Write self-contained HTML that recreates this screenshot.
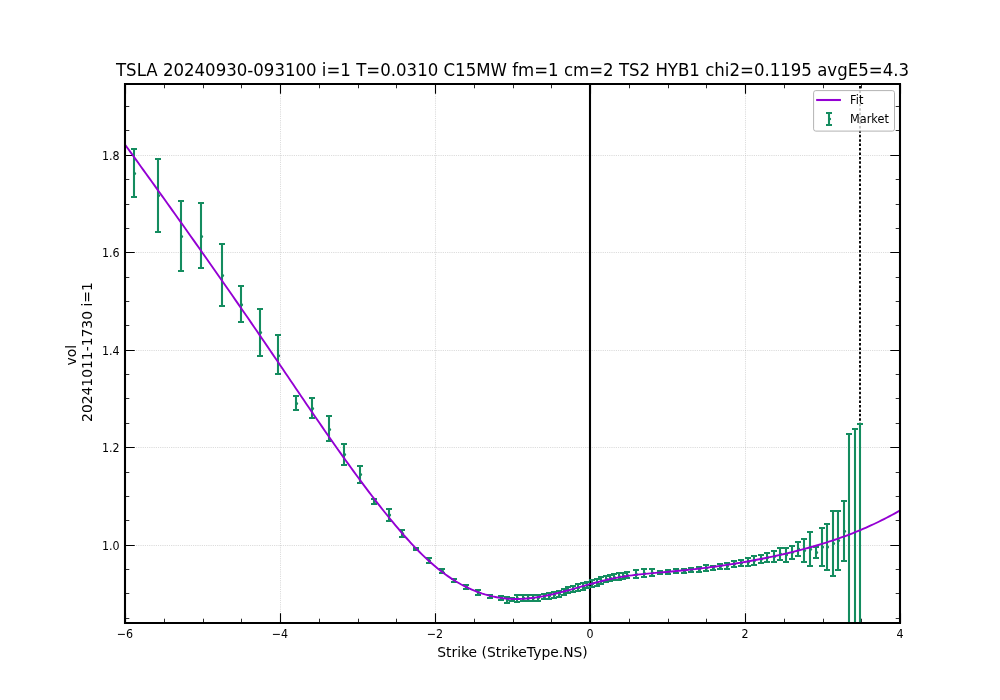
<!DOCTYPE html>
<html><head><meta charset="utf-8"><title>TSLA vol fit</title>
<style>html,body{margin:0;padding:0;background:#fff;overflow:hidden;}svg{display:block;}</style></head>
<body>
<svg width="1000" height="700" viewBox="0 0 1000 700">
<rect x="0" y="0" width="1000" height="700" fill="#ffffff"/>
<defs><clipPath id="ax"><rect x="125" y="84" width="775" height="539"/></clipPath></defs>
<g clip-path="url(#ax)"><path d="M 125.5 623 L 125.5 84 M 280.5 623 L 280.5 84 M 435.5 623 L 435.5 84 M 590.5 623 L 590.5 84 M 745.5 623 L 745.5 84 M 900.5 623 L 900.5 84 M 125 545.5 L 900 545.5 M 125 447.5 L 900 447.5 M 125 350.5 L 900 350.5 M 125 252.5 L 900 252.5 M 125 155.5 L 900 155.5" style="fill:none;stroke:#b0b0b0;stroke-opacity:0.9;stroke-width:0.69;stroke-dasharray:0.69 1.15"/></g>
<path d="M 125.5 623 L 125.5 613.28 M 125.5 84 L 125.5 93.72 M 280.5 623 L 280.5 613.28 M 280.5 84 L 280.5 93.72 M 435.5 623 L 435.5 613.28 M 435.5 84 L 435.5 93.72 M 590.5 623 L 590.5 613.28 M 590.5 84 L 590.5 93.72 M 745.5 623 L 745.5 613.28 M 745.5 84 L 745.5 93.72 M 900.5 623 L 900.5 613.28 M 900.5 84 L 900.5 93.72 M 125 545.5 L 134.72 545.5 M 900 545.5 L 890.28 545.5 M 125 447.5 L 134.72 447.5 M 900 447.5 L 890.28 447.5 M 125 350.5 L 134.72 350.5 M 900 350.5 L 890.28 350.5 M 125 252.5 L 134.72 252.5 M 900 252.5 L 890.28 252.5 M 125 155.5 L 134.72 155.5 M 900 155.5 L 890.28 155.5" style="fill:none;stroke:#000;stroke-width:1.11"/>
<path d="M 164.5 623 L 164.5 618.69 M 164.5 84 L 164.5 88.31 M 203.5 623 L 203.5 618.69 M 203.5 84 L 203.5 88.31 M 241.5 623 L 241.5 618.69 M 241.5 84 L 241.5 88.31 M 319.5 623 L 319.5 618.69 M 319.5 84 L 319.5 88.31 M 358.5 623 L 358.5 618.69 M 358.5 84 L 358.5 88.31 M 396.5 623 L 396.5 618.69 M 396.5 84 L 396.5 88.31 M 474.5 623 L 474.5 618.69 M 474.5 84 L 474.5 88.31 M 513.5 623 L 513.5 618.69 M 513.5 84 L 513.5 88.31 M 551.5 623 L 551.5 618.69 M 551.5 84 L 551.5 88.31 M 629.5 623 L 629.5 618.69 M 629.5 84 L 629.5 88.31 M 668.5 623 L 668.5 618.69 M 668.5 84 L 668.5 88.31 M 706.5 623 L 706.5 618.69 M 706.5 84 L 706.5 88.31 M 784.5 623 L 784.5 618.69 M 784.5 84 L 784.5 88.31 M 823.5 623 L 823.5 618.69 M 823.5 84 L 823.5 88.31 M 861.5 623 L 861.5 618.69 M 861.5 84 L 861.5 88.31 M 125 618.5 L 129.31 618.5 M 900 618.5 L 895.69 618.5 M 125 593.5 L 129.31 593.5 M 900 593.5 L 895.69 593.5 M 125 569.5 L 129.31 569.5 M 900 569.5 L 895.69 569.5 M 125 520.5 L 129.31 520.5 M 900 520.5 L 895.69 520.5 M 125 496.5 L 129.31 496.5 M 900 496.5 L 895.69 496.5 M 125 472.5 L 129.31 472.5 M 900 472.5 L 895.69 472.5 M 125 423.5 L 129.31 423.5 M 900 423.5 L 895.69 423.5 M 125 398.5 L 129.31 398.5 M 900 398.5 L 895.69 398.5 M 125 374.5 L 129.31 374.5 M 900 374.5 L 895.69 374.5 M 125 325.5 L 129.31 325.5 M 900 325.5 L 895.69 325.5 M 125 301.5 L 129.31 301.5 M 900 301.5 L 895.69 301.5 M 125 277.5 L 129.31 277.5 M 900 277.5 L 895.69 277.5 M 125 228.5 L 129.31 228.5 M 900 228.5 L 895.69 228.5 M 125 204.5 L 129.31 204.5 M 900 204.5 L 895.69 204.5 M 125 179.5 L 129.31 179.5 M 900 179.5 L 895.69 179.5 M 125 130.5 L 129.31 130.5 M 900 130.5 L 895.69 130.5 M 125 106.5 L 129.31 106.5 M 900 106.5 L 895.69 106.5" style="fill:none;stroke:#000;stroke-width:0.83"/>
<g clip-path="url(#ax)">
<path d="M 590 623 L 590 84" style="fill:none;stroke:#000;stroke-width:2.08;stroke-linecap:square"/>
<path d="M 860 623 L 860 84" style="fill:none;stroke:#000;stroke-width:1.9;stroke-dasharray:2.5 1.93;stroke-dashoffset:1.56"/>
</g>
<g clip-path="url(#ax)">
<path d="M 134 197 L 134 149 M 158 232 L 158 159 M 181 271 L 181 201 M 201 268 L 201 203 M 222 306 L 222 244 M 241 322 L 241 286 M 260 356 L 260 309 M 278 374 L 278 335 M 296 410 L 296 396 M 312 418 L 312 398 M 329 441 L 329 416 M 344 465 L 344 444 M 360 483 L 360 466 M 374 504 L 374 499 M 389 521 L 389 509 M 402 537 L 402 530 M 416 550 L 416 548 M 429 563 L 429 558 M 442 573 L 442 569 M 454 582 L 454 579 M 466 589 L 466 585 M 478 595 L 478 590 M 490 598 L 490 595 M 501 600 L 501 596 M 507 603 L 507 597 M 512 601 L 512 598 M 517 602 L 517 595 M 523 601 L 523 595 M 528 601 L 528 595 M 533 601 L 533 595 M 538 601 L 538 595 M 544 599 L 544 594 M 549 599 L 549 593 M 554 598 L 554 592 M 559 597 L 559 591 M 564 595 L 564 589 M 568 593 L 568 587 M 573 592 L 573 586 M 578 591 L 578 584 M 583 590 L 583 583 M 587 588 L 587 582 M 592 587 L 592 580 M 597 586 L 597 579 M 601 584 L 601 577 M 606 582 L 606 576 M 610 581 L 610 575 M 614 580 L 614 574 M 619 580 L 619 573 M 623 579 L 623 573 M 627 578 L 627 572 M 636 578 L 636 570 M 644 577 L 644 569 M 652 576 L 652 569 M 660 574 L 660 571 M 668 574 L 668 570 M 676 573 L 676 569 M 684 573 L 684 569 M 691 572 L 691 568 M 699 572 L 699 567 M 706 571 L 706 565 M 713 570 L 713 566 M 720 569 L 720 564 M 727 569 L 727 563 M 734 567 L 734 561 M 741 566 L 741 560 M 748 566 L 748 558 M 754 565 L 754 556 M 761 563 L 761 555 M 767 562 L 767 553 M 774 562 L 774 551 M 780 560 L 780 548 M 786 562 L 786 548 M 792 559 L 792 546 M 798 556 L 798 542 M 804 562 L 804 539 M 810 566 L 810 532 M 816 558 L 816 547 M 822 566 L 822 528 M 827 570 L 827 524 M 833 576 L 833 511 M 838 570 L 838 511 M 844 561 L 844 501 M 849 900 L 849 434 M 855 900 L 855 429 M 860 900 L 860 424" style="fill:none;stroke:#148c5f;stroke-width:2.08"/>
<path d="M 131 149 L 137 149 M 131 197 L 137 197 M 155 159 L 161 159 M 155 232 L 161 232 M 178 201 L 184 201 M 178 271 L 184 271 M 198 203 L 204 203 M 198 268 L 204 268 M 219 244 L 225 244 M 219 306 L 225 306 M 238 286 L 244 286 M 238 322 L 244 322 M 257 309 L 263 309 M 257 356 L 263 356 M 275 335 L 281 335 M 275 374 L 281 374 M 293 396 L 299 396 M 293 410 L 299 410 M 309 398 L 315 398 M 309 418 L 315 418 M 326 416 L 332 416 M 326 441 L 332 441 M 341 444 L 347 444 M 341 465 L 347 465 M 357 466 L 363 466 M 357 483 L 363 483 M 371 499 L 377 499 M 371 504 L 377 504 M 386 509 L 392 509 M 386 521 L 392 521 M 399 530 L 405 530 M 399 537 L 405 537 M 413 548 L 419 548 M 413 550 L 419 550 M 426 558 L 432 558 M 426 563 L 432 563 M 439 569 L 445 569 M 439 573 L 445 573 M 451 579 L 457 579 M 451 582 L 457 582 M 463 585 L 469 585 M 463 589 L 469 589 M 475 590 L 481 590 M 475 595 L 481 595 M 487 595 L 493 595 M 487 598 L 493 598 M 498 596 L 504 596 M 498 600 L 504 600 M 504 597 L 510 597 M 504 603 L 510 603 M 509 598 L 515 598 M 509 601 L 515 601 M 514 595 L 520 595 M 514 602 L 520 602 M 520 595 L 526 595 M 520 601 L 526 601 M 525 595 L 531 595 M 525 601 L 531 601 M 530 595 L 536 595 M 530 601 L 536 601 M 535 595 L 541 595 M 535 601 L 541 601 M 541 594 L 547 594 M 541 599 L 547 599 M 546 593 L 552 593 M 546 599 L 552 599 M 551 592 L 557 592 M 551 598 L 557 598 M 556 591 L 562 591 M 556 597 L 562 597 M 561 589 L 567 589 M 561 595 L 567 595 M 565 587 L 571 587 M 565 593 L 571 593 M 570 586 L 576 586 M 570 592 L 576 592 M 575 584 L 581 584 M 575 591 L 581 591 M 580 583 L 586 583 M 580 590 L 586 590 M 584 582 L 590 582 M 584 588 L 590 588 M 589 580 L 595 580 M 589 587 L 595 587 M 594 579 L 600 579 M 594 586 L 600 586 M 598 577 L 604 577 M 598 584 L 604 584 M 603 576 L 609 576 M 603 582 L 609 582 M 607 575 L 613 575 M 607 581 L 613 581 M 611 574 L 617 574 M 611 580 L 617 580 M 616 573 L 622 573 M 616 580 L 622 580 M 620 573 L 626 573 M 620 579 L 626 579 M 624 572 L 630 572 M 624 578 L 630 578 M 633 570 L 639 570 M 633 578 L 639 578 M 641 569 L 647 569 M 641 577 L 647 577 M 649 569 L 655 569 M 649 576 L 655 576 M 657 571 L 663 571 M 657 574 L 663 574 M 665 570 L 671 570 M 665 574 L 671 574 M 673 569 L 679 569 M 673 573 L 679 573 M 681 569 L 687 569 M 681 573 L 687 573 M 688 568 L 694 568 M 688 572 L 694 572 M 696 567 L 702 567 M 696 572 L 702 572 M 703 565 L 709 565 M 703 571 L 709 571 M 710 566 L 716 566 M 710 570 L 716 570 M 717 564 L 723 564 M 717 569 L 723 569 M 724 563 L 730 563 M 724 569 L 730 569 M 731 561 L 737 561 M 731 567 L 737 567 M 738 560 L 744 560 M 738 566 L 744 566 M 745 558 L 751 558 M 745 566 L 751 566 M 751 556 L 757 556 M 751 565 L 757 565 M 758 555 L 764 555 M 758 563 L 764 563 M 764 553 L 770 553 M 764 562 L 770 562 M 771 551 L 777 551 M 771 562 L 777 562 M 777 548 L 783 548 M 777 560 L 783 560 M 783 548 L 789 548 M 783 562 L 789 562 M 789 546 L 795 546 M 789 559 L 795 559 M 795 542 L 801 542 M 795 556 L 801 556 M 801 539 L 807 539 M 801 562 L 807 562 M 807 532 L 813 532 M 807 566 L 813 566 M 813 547 L 819 547 M 813 558 L 819 558 M 819 528 L 825 528 M 819 566 L 825 566 M 824 524 L 830 524 M 824 570 L 830 570 M 830 511 L 836 511 M 830 576 L 836 576 M 835 511 L 841 511 M 835 570 L 841 570 M 841 501 L 847 501 M 841 561 L 847 561 M 846 434 L 852 434 M 846 900 L 852 900 M 852 429 L 858 429 M 852 900 L 858 900 M 857 424 L 863 424 M 857 900 L 863 900" style="fill:none;stroke:#148c5f;stroke-width:2.08"/>
<g style="fill:#148c5f"><circle cx="134.6" cy="173.4" r="1.5"/><circle cx="158.6" cy="195.4" r="1.5"/><circle cx="181.6" cy="236.5" r="1.5"/><circle cx="201.6" cy="236.5" r="1.5"/><circle cx="222.6" cy="275.6" r="1.5"/><circle cx="241.6" cy="304.8" r="1.5"/><circle cx="260.6" cy="332.6" r="1.5"/><circle cx="278.6" cy="355.8" r="1.5"/><circle cx="296.6" cy="403.4" r="1.5"/><circle cx="312.6" cy="408.4" r="1.5"/><circle cx="329.6" cy="429.5" r="1.5"/><circle cx="344.6" cy="454.5" r="1.5"/><circle cx="360.6" cy="474.6" r="1.5"/><circle cx="374.6" cy="501.6" r="1.5"/><circle cx="389.6" cy="515" r="1.5"/><circle cx="402.6" cy="533.6" r="1.5"/><circle cx="416.6" cy="549.2" r="1.5"/><circle cx="429.6" cy="560.7" r="1.5"/><circle cx="442.6" cy="571.2" r="1.5"/><circle cx="454.6" cy="580.7" r="1.5"/><circle cx="466.6" cy="587.1" r="1.5"/><circle cx="478.6" cy="592.6" r="1.5"/><circle cx="490.6" cy="596.3" r="1.5"/><circle cx="501.6" cy="598.08" r="1.5"/><circle cx="507.6" cy="600.1" r="1.5"/><circle cx="512.6" cy="599.45" r="1.5"/><circle cx="517.6" cy="598.58" r="1.5"/><circle cx="523.6" cy="598.05" r="1.5"/><circle cx="528.6" cy="598.05" r="1.5"/><circle cx="533.6" cy="598.05" r="1.5"/><circle cx="538.6" cy="597.79" r="1.5"/><circle cx="544.6" cy="596.84" r="1.5"/><circle cx="549.6" cy="595.92" r="1.5"/><circle cx="554.6" cy="594.97" r="1.5"/><circle cx="559.6" cy="593.9" r="1.5"/><circle cx="564.6" cy="592.04" r="1.5"/><circle cx="568.6" cy="590.35" r="1.5"/><circle cx="573.6" cy="588.98" r="1.5"/><circle cx="578.6" cy="587.64" r="1.5"/><circle cx="583.6" cy="586.38" r="1.5"/><circle cx="587.6" cy="585.18" r="1.5"/><circle cx="592.6" cy="583.86" r="1.5"/><circle cx="597.6" cy="582.4" r="1.5"/><circle cx="601.6" cy="580.89" r="1.5"/><circle cx="606.6" cy="579.3" r="1.5"/><circle cx="610.6" cy="578.19" r="1.5"/><circle cx="614.6" cy="577.39" r="1.5"/><circle cx="619.6" cy="576.68" r="1.5"/><circle cx="623.6" cy="576.07" r="1.5"/><circle cx="627.6" cy="575.55" r="1.5"/><circle cx="636.6" cy="574.4" r="1.5"/><circle cx="644.6" cy="573.6" r="1.5"/><circle cx="652.6" cy="573.1" r="1.5"/><circle cx="660.6" cy="572.8" r="1.5"/><circle cx="668.6" cy="572.15" r="1.5"/><circle cx="676.6" cy="571.15" r="1.5"/><circle cx="684.6" cy="571.15" r="1.5"/><circle cx="691.6" cy="570.15" r="1.5"/><circle cx="699.6" cy="569.65" r="1.5"/><circle cx="706.6" cy="568.3" r="1.5"/><circle cx="713.6" cy="567.85" r="1.5"/><circle cx="720.6" cy="566.5" r="1.5"/><circle cx="727.6" cy="566.05" r="1.5"/><circle cx="734.6" cy="564" r="1.5"/><circle cx="741.6" cy="563.05" r="1.5"/><circle cx="748.6" cy="561.9" r="1.5"/><circle cx="754.6" cy="560.55" r="1.5"/><circle cx="761.6" cy="559" r="1.5"/><circle cx="767.6" cy="557.5" r="1.5"/><circle cx="774.6" cy="556.4" r="1.5"/><circle cx="780.6" cy="554" r="1.5"/><circle cx="786.6" cy="554.85" r="1.5"/><circle cx="792.6" cy="552.35" r="1.5"/><circle cx="798.6" cy="549" r="1.5"/><circle cx="804.6" cy="550.4" r="1.5"/><circle cx="810.6" cy="549.15" r="1.5"/><circle cx="816.6" cy="552.5" r="1.5"/><circle cx="822.6" cy="547" r="1.5"/><circle cx="827.6" cy="547.05" r="1.5"/><circle cx="833.6" cy="543.45" r="1.5"/><circle cx="838.6" cy="540.6" r="1.5"/><circle cx="844.6" cy="531.2" r="1.5"/><circle cx="849.6" cy="667.15" r="1.5"/><circle cx="855.6" cy="664.65" r="1.5"/><circle cx="860.6" cy="662.1" r="1.5"/></g>
<path d="M 120 137.7 122.63 141.32 125.25 144.94 127.88 148.55 130.5 152.18 133.13 155.8 135.75 159.43 138.38 163.06 141 166.7 143.63 170.34 146.25 173.98 148.88 177.62 151.51 181.27 154.13 184.92 156.76 188.58 159.38 192.23 162.01 195.9 164.63 199.56 167.26 203.23 169.88 206.9 172.51 210.58 175.13 214.26 177.76 217.94 180.38 221.63 183.01 225.32 185.64 229.02 188.26 232.72 190.89 236.43 193.51 240.13 196.14 243.85 198.76 247.56 201.39 251.29 204.01 255.01 206.64 258.74 209.26 262.48 211.89 266.22 214.52 269.96 217.14 273.71 219.77 277.46 222.39 281.22 225.02 284.99 227.64 288.75 230.27 292.53 232.89 296.3 235.52 300.09 238.14 303.88 240.77 307.67 243.39 311.47 246.02 315.27 248.65 319.08 251.27 322.89 253.9 326.71 256.52 330.54 259.15 334.37 261.77 338.21 264.4 342.05 267.02 345.9 269.65 349.75 272.27 353.61 274.9 357.47 277.53 361.34 280.15 365.21 282.78 369.09 285.4 372.96 288.03 376.84 290.65 380.71 293.28 384.59 295.9 388.46 298.53 392.33 301.15 396.2 303.78 400.06 306.4 403.91 309.03 407.76 311.66 411.61 314.28 415.44 316.91 419.27 319.53 423.08 322.16 426.89 324.78 430.68 327.41 434.46 330.03 438.23 332.66 441.98 335.28 445.72 337.91 449.45 340.54 453.15 343.16 456.84 345.79 460.51 348.41 464.16 351.04 467.79 353.66 471.4 356.29 474.99 358.91 478.56 361.54 482.1 364.16 485.61 366.79 489.11 369.41 492.57 372.04 496.01 374.67 499.42 377.29 502.8 379.92 506.15 382.54 509.47 385.17 512.76 387.79 516.02 390.42 519.24 393.04 522.43 395.67 525.58 398.29 528.69 400.92 531.76 403.55 534.78 406.17 537.75 408.8 540.66 411.42 543.52 414.05 546.33 416.67 549.07 419.3 551.75 421.92 554.36 424.55 556.9 427.17 559.36 429.8 561.76 432.42 564.07 435.05 566.31 437.68 568.47 440.3 570.55 442.93 572.56 445.55 574.5 448.18 576.35 450.8 578.13 453.43 579.83 456.05 581.46 458.68 583.01 461.3 584.49 463.93 585.89 466.56 587.21 469.18 588.46 471.81 589.63 474.43 590.73 477.06 591.76 479.68 592.72 482.31 593.6 484.93 594.41 487.56 595.15 490.18 595.83 492.81 596.44 495.43 596.97 498.06 597.45 500.69 597.85 503.31 598.2 505.94 598.48 508.56 598.69 511.19 598.85 513.81 598.94 516.44 598.97 519.06 598.94 521.69 598.86 524.31 598.71 526.94 598.51 529.57 598.27 532.19 597.97 534.82 597.62 537.44 597.23 540.07 596.8 542.69 596.33 545.32 595.83 547.94 595.29 550.57 594.72 553.19 594.12 555.82 593.5 558.44 592.85 561.07 592.18 563.7 591.49 566.32 590.79 568.95 590.07 571.57 589.35 574.2 588.61 576.82 587.87 579.45 587.13 582.07 586.39 584.7 585.64 587.32 584.91 589.95 584.18 592.58 583.46 595.2 582.75 597.83 582.06 600.45 581.38 603.08 580.73 605.7 580.09 608.33 579.49 610.95 578.9 613.58 578.35 616.2 577.83 618.83 577.34 621.45 576.89 624.08 576.46 626.71 576.06 629.33 575.68 631.96 575.33 634.58 574.99 637.21 574.68 639.83 574.38 642.46 574.1 645.08 573.84 647.71 573.58 650.33 573.34 652.96 573.1 655.59 572.87 658.21 572.64 660.84 572.42 663.46 572.19 666.09 571.96 668.71 571.74 671.34 571.5 673.96 571.26 676.59 571.01 679.21 570.76 681.84 570.49 684.46 570.23 687.09 569.95 689.72 569.67 692.34 569.38 694.97 569.08 697.59 568.78 700.22 568.47 702.84 568.15 705.47 567.82 708.09 567.49 710.72 567.15 713.34 566.8 715.97 566.44 718.6 566.07 721.22 565.7 723.85 565.32 726.47 564.93 729.1 564.53 731.72 564.12 734.35 563.7 736.97 563.27 739.6 562.84 742.22 562.39 744.85 561.94 747.47 561.48 750.1 561.01 752.73 560.52 755.35 560.03 757.98 559.53 760.6 559.02 763.23 558.5 765.85 557.97 768.48 557.43 771.1 556.87 773.73 556.31 776.35 555.74 778.98 555.16 781.61 554.56 784.23 553.96 786.86 553.34 789.48 552.71 792.11 552.08 794.73 551.43 797.36 550.77 799.98 550.09 802.61 549.4 805.23 548.7 807.86 547.99 810.48 547.26 813.11 546.52 815.74 545.76 818.36 544.99 820.99 544.2 823.61 543.39 826.24 542.56 828.86 541.72 831.49 540.86 834.11 539.98 836.74 539.08 839.36 538.17 841.99 537.23 844.62 536.27 847.24 535.29 849.87 534.29 852.49 533.27 855.12 532.22 857.74 531.16 860.37 530.07 862.99 528.95 865.62 527.81 868.24 526.65 870.87 525.46 873.49 524.25 876.12 523.01 878.75 521.74 881.37 520.44 884 519.12 886.62 517.77 889.25 516.39 891.87 514.99 894.5 513.55 897.12 512.08 899.75 510.59 902.37 509.06 905 507.5" style="fill:none;stroke:#9400d3;stroke-width:1.9;stroke-linejoin:round"/>
</g>
<path d="M 125 623 L 125 84 M 900 623 L 900 84 M 125 623 L 900 623 M 125 84 L 900 84" style="fill:none;stroke:#000;stroke-width:2.08;stroke-linecap:square"/>
<text transform="translate(125 638.3) scale(1 1.1)" style="font-size:11.11px;font-family:'DejaVu Sans','Liberation Sans',sans-serif;text-anchor:middle">−6</text>
<text transform="translate(280 638.3) scale(1 1.1)" style="font-size:11.11px;font-family:'DejaVu Sans','Liberation Sans',sans-serif;text-anchor:middle">−4</text>
<text transform="translate(435 638.3) scale(1 1.1)" style="font-size:11.11px;font-family:'DejaVu Sans','Liberation Sans',sans-serif;text-anchor:middle">−2</text>
<text transform="translate(590 638.3) scale(1 1.1)" style="font-size:11.11px;font-family:'DejaVu Sans','Liberation Sans',sans-serif;text-anchor:middle">0</text>
<text transform="translate(745 638.3) scale(1 1.1)" style="font-size:11.11px;font-family:'DejaVu Sans','Liberation Sans',sans-serif;text-anchor:middle">2</text>
<text transform="translate(900 638.3) scale(1 1.1)" style="font-size:11.11px;font-family:'DejaVu Sans','Liberation Sans',sans-serif;text-anchor:middle">4</text>
<text transform="translate(119.6 549.52) scale(1 1.1)" style="font-size:11.11px;font-family:'DejaVu Sans','Liberation Sans',sans-serif;text-anchor:end">1.0</text>
<text transform="translate(119.6 452.05) scale(1 1.1)" style="font-size:11.11px;font-family:'DejaVu Sans','Liberation Sans',sans-serif;text-anchor:end">1.2</text>
<text transform="translate(119.6 354.57) scale(1 1.1)" style="font-size:11.11px;font-family:'DejaVu Sans','Liberation Sans',sans-serif;text-anchor:end">1.4</text>
<text transform="translate(119.6 257.1) scale(1 1.1)" style="font-size:11.11px;font-family:'DejaVu Sans','Liberation Sans',sans-serif;text-anchor:end">1.6</text>
<text transform="translate(119.6 159.62) scale(1 1.1)" style="font-size:11.11px;font-family:'DejaVu Sans','Liberation Sans',sans-serif;text-anchor:end">1.8</text>
<text x="512.5" y="656.72" style="font-size:13.89px;font-family:'DejaVu Sans','Liberation Sans',sans-serif;text-anchor:middle">Strike (StrikeType.NS)</text>
<text transform="translate(76.47 365.5) rotate(-90)" style="font-size:13.89px;font-family:'DejaVu Sans','Liberation Sans',sans-serif">vol</text>
<text transform="translate(92.02 421.95) rotate(-90)" style="font-size:13.89px;font-family:'DejaVu Sans','Liberation Sans',sans-serif">20241011-1730 i=1</text>
<text transform="translate(512.5 75.67) scale(1 1.075)" style="font-size:16.6px;font-family:'DejaVu Sans','Liberation Sans',sans-serif;text-anchor:middle">TSLA 20240930-093100 i=1 T=0.0310 C15MW fm=1 cm=2 TS2 HYB1 chi2=0.1195 avgE5=4.3</text>
<path d="M 815.8 90.6 L 892.3 90.6 Q 894.5 90.6 894.5 92.8 L 894.5 128.9 Q 894.5 131.1 892.3 131.1 L 815.8 131.1 Q 813.6 131.1 813.6 128.9 L 813.6 92.8 Q 813.6 90.6 815.8 90.6 z" style="fill:#ffffff;fill-opacity:0.8;stroke:#b3b3b3;stroke-width:1"/>
<path d="M 817.2 100 L 839.9 100" style="fill:none;stroke:#9400d3;stroke-width:2.08;stroke-linecap:square"/>
<text transform="translate(850.1 103.5) scale(1.015 1.1)" style="font-size:11.11px;font-family:'DejaVu Sans','Liberation Sans',sans-serif">Fit</text>
<path d="M 829 125 L 829 113 M 826 113 L 832 113 M 826 125 L 832 125" style="fill:none;stroke:#148c5f;stroke-width:2.08"/>
<circle cx="829.9" cy="119" r="1.25" style="fill:#148c5f"/>
<text transform="translate(850.1 122.7) scale(1.015 1.1)" style="font-size:11.11px;font-family:'DejaVu Sans','Liberation Sans',sans-serif">Market</text>
</svg>
</body></html>
